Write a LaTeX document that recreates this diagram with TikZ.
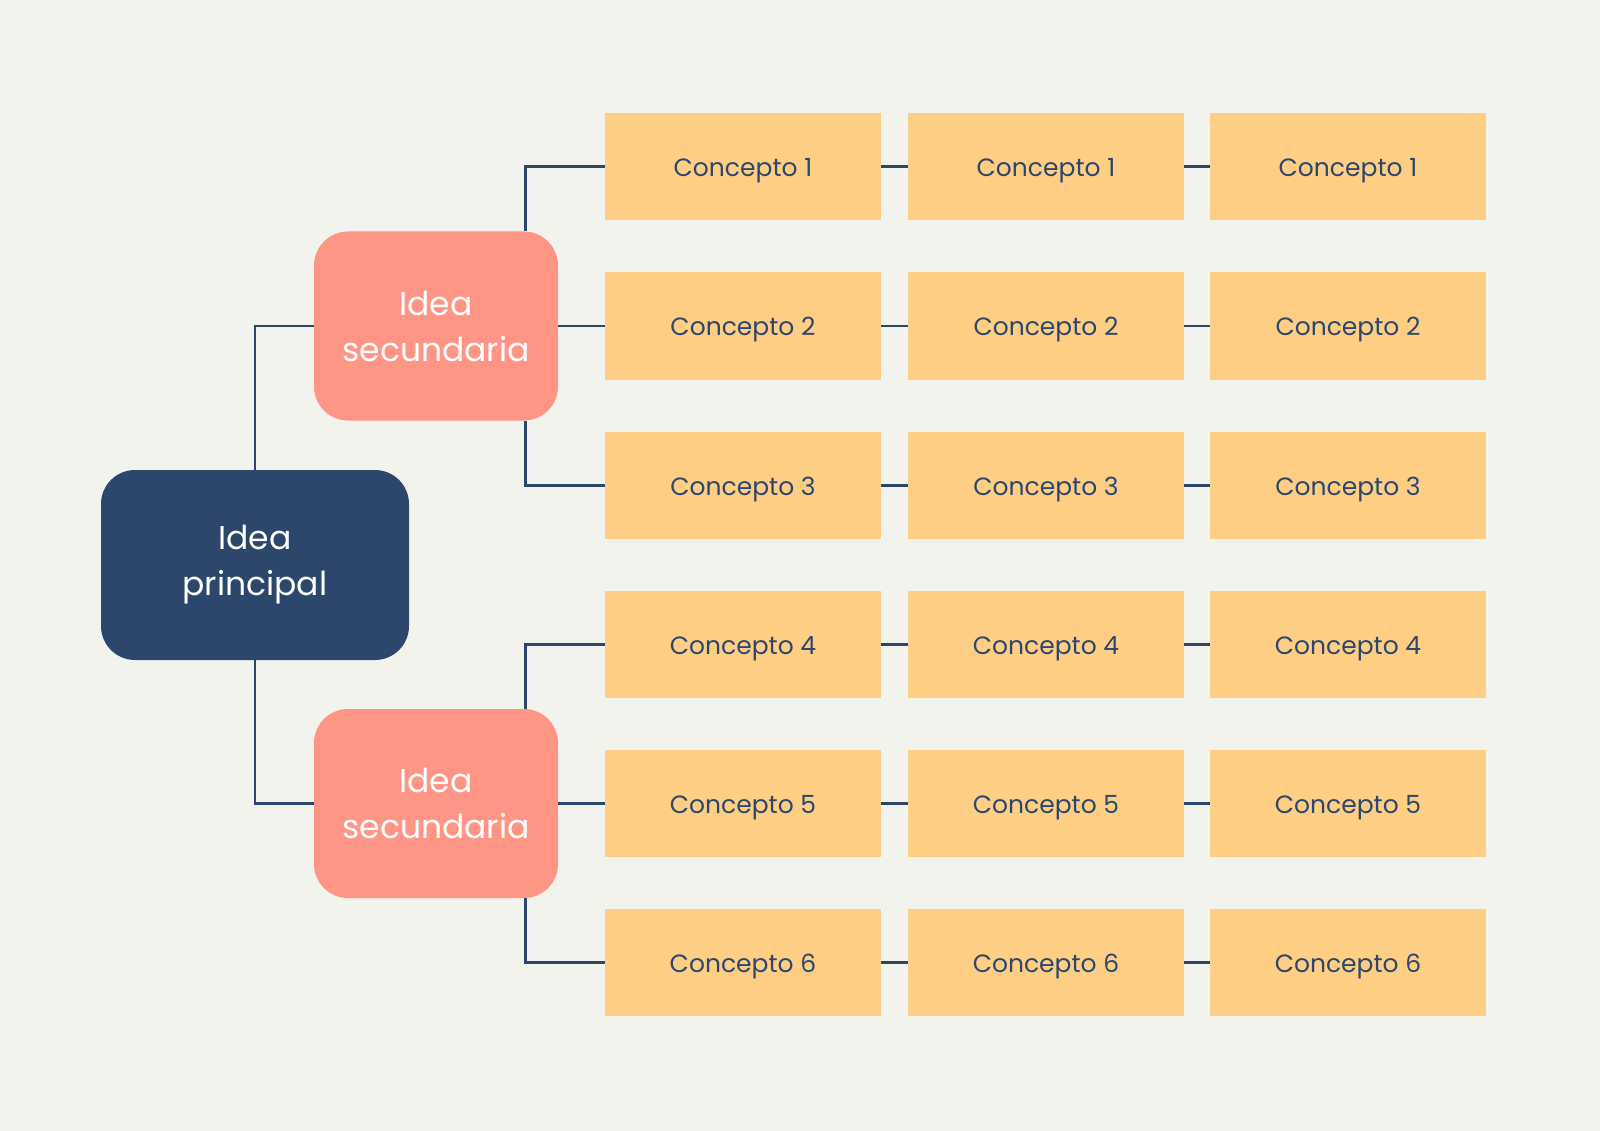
\documentclass[tikz,border=0pt]{standalone}
\usepackage{fontspec}
\setmainfont{Poppins}
\definecolor{bg}{HTML}{F3F3EE}
\definecolor{navy}{HTML}{2C476B}
\definecolor{salmon}{HTML}{FF9585}
\definecolor{sand}{HTML}{FECE85}
\begin{document}
\begin{tikzpicture}[x=1pt,y=-1pt,
  mainbox/.style={fill=navy,rounded corners=34pt,minimum width=308pt,minimum height=190pt,inner sep=0pt,text=white,align=center,font=\fontsize{33}{46}\selectfont},
  ideabox/.style={fill=salmon,rounded corners=34pt,minimum width=244pt,minimum height=189pt,inner sep=0pt,text=white,align=center,font=\fontsize{33}{46}\selectfont},
  conbox/.style={fill=sand,minimum width=276pt,minimum height=107pt,inner sep=0pt,text=navy,text height=20pt,text depth=0pt,font=\fontsize{25}{30}\selectfont},
  link/.style={draw=navy,line width=2.5pt}]
\fill[bg] (0,0) rectangle (1600,1131);
\useasboundingbox (0,0) rectangle (1600,1131);
\node[mainbox] (main) at (255,565) {Idea\\principal};
\node[ideabox] (i1) at (436,326) {Idea\\secundaria};
\node[ideabox] (i2) at (436,803.5) {Idea\\secundaria};
\foreach \r/\y in {1/166.5,2/326,3/485.5,4/644.5,5/803.5,6/962.5}{
  \node[conbox] (c\r a) at (743,\y) {Concepto \r};
  \node[conbox] (c\r b) at (1046,\y) {Concepto \r};
  \node[conbox] (c\r c) at (1348,\y) {Concepto \r};
  \draw[link] (c\r a.east) -- (c\r b.west);
  \draw[link] (c\r b.east) -- (c\r c.west);
}
\draw[link] (main.north) |- (i1.west);
\draw[link] (main.south) |- (i2.west);
\draw[link] (i1.east) -- (c2a.west);
\draw[link] (i2.east) -- (c5a.west);
\coordinate (t1) at (525.5,231.5);
\coordinate (b1) at (525.5,420.5);
\coordinate (t2) at (525.5,709);
\coordinate (b2) at (525.5,898);
\draw[link] (t1) |- (c1a.west);
\draw[link] (b1) |- (c3a.west);
\draw[link] (t2) |- (c4a.west);
\draw[link] (b2) |- (c6a.west);
\end{tikzpicture}
\end{document}
